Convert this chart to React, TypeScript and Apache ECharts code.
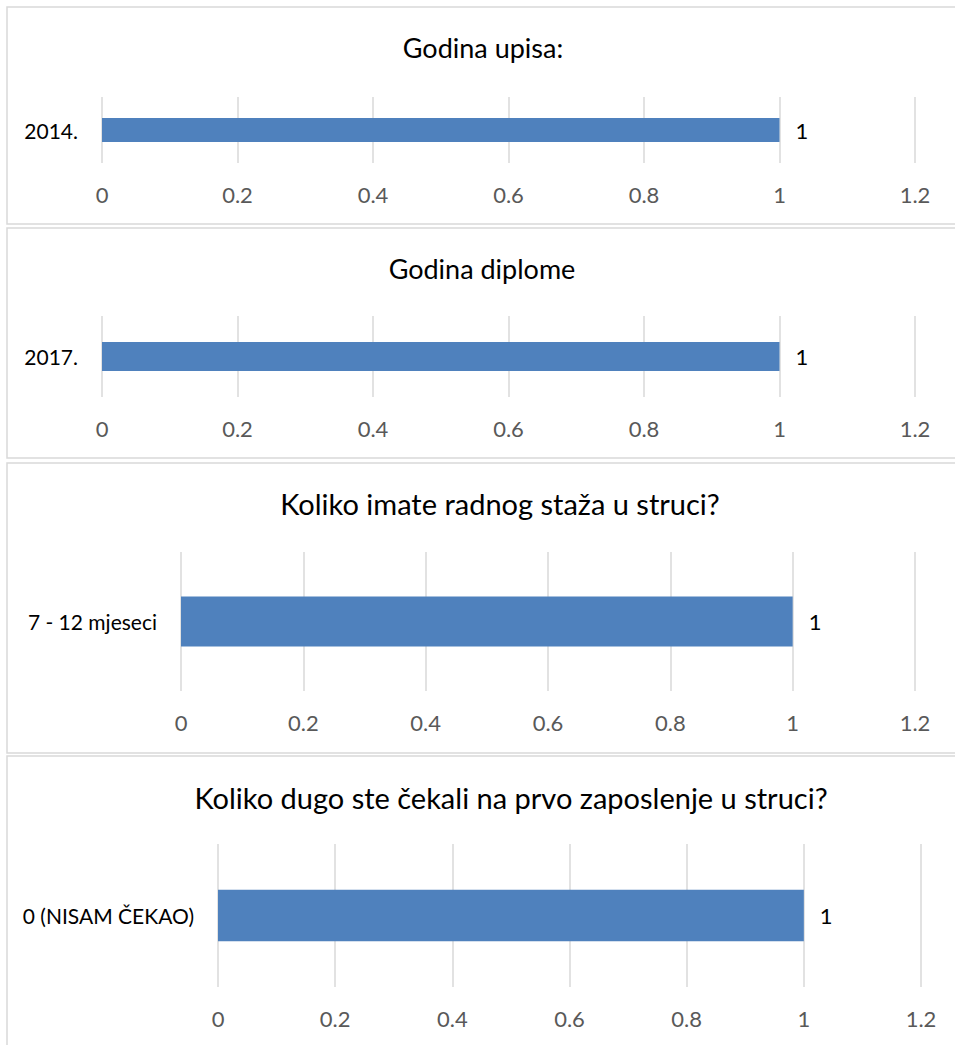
import React, { useEffect, useRef } from "react";
import * as echarts from "echarts";

const titles = [
  "Godina upisa:",
  "Godina diplome",
  "Koliko imate radnog staža u struci?",
  "Koliko dugo ste čekali na prvo zaposlenje u struci?",
];
const categories = [["2014."], ["2017."], ["7 - 12 mjeseci"], ["0 (NISAM ČEKAO)"]];
const values = [[1], [1], [1], [1]];
const axisMin = 0;
const axisMax = 1.2;
const axisInterval = 0.2;

// layout (pixels)
const panels = [
  { top: 7, bottom: 224 },
  { top: 228, bottom: 458 },
  { top: 463, bottom: 753 },
  { top: 756, bottom: 1060 },
];
const grids = [
  { left: 102, right: 915, top: 97, bottom: 163 },
  { left: 102, right: 915, top: 316, bottom: 397 },
  { left: 181, right: 915, top: 552, bottom: 691 },
  { left: 218, right: 921, top: 844, bottom: 987 },
];
const titlePos = [
  { x: 483, y: 47 },
  { x: 482, y: 268 },
  { x: 500, y: 503 },
  { x: 511, y: 797 },
];
const titleSizes = [27, 27, 29, 29];

const FONT = "Lato, 'Open Sans', sans-serif";

export default function App() {
  const ref = useRef<HTMLDivElement>(null);
  useEffect(() => {
    if (!ref.current) return;
    const chart = echarts.init(ref.current, null, { renderer: "svg" });
    const option: any = {
      animation: false,
      backgroundColor: "#ffffff",
      textStyle: { fontFamily: FONT },
      graphic: [
        ...panels.map((p) => ({
          type: "rect",
          shape: { x: 7, y: p.top, width: 1000, height: p.bottom - p.top },
          style: { fill: "none", stroke: "#d9d9d9", lineWidth: 1.5 },
          z: -1,
          silent: true,
        })),
        ...titles.map((t, i) => ({
          type: "text",
          x: titlePos[i].x,
          y: titlePos[i].y,
          style: {
            text: t,
            fill: "#000000",
            fontSize: titleSizes[i],
            fontFamily: FONT,
            align: "center",
            verticalAlign: "middle",
          },
        })),
      ],
      grid: grids.map((g) => ({
        left: g.left,
        top: g.top,
        width: g.right - g.left,
        height: g.bottom - g.top,
        outerBoundsMode: "none",
        containLabel: false,
      })),
      xAxis: grids.map((_, i) => ({
        type: "value",
        gridIndex: i,
        min: axisMin,
        max: axisMax,
        interval: axisInterval,
        axisLine: { show: false },
        axisTick: { show: false },
        splitLine: { show: true, lineStyle: { color: "#d9d9d9", width: 1.5 } },
        axisLabel: {
          color: "#595959",
          fontSize: 22,
          fontFamily: FONT,
          margin: 20,
          formatter: (v: number) => String(+v.toFixed(1)),
        },
      })),
      yAxis: categories.map((c, i) => ({
        type: "category",
        gridIndex: i,
        data: c,
        axisLine: { show: false },
        axisTick: { show: false },
        axisLabel: { color: "#000000", fontSize: 21, fontFamily: FONT, margin: 24 },
      })),
      series: values.map((v, i) => ({
        type: "bar",
        xAxisIndex: i,
        yAxisIndex: i,
        data: v,
        barCategoryGap: "64%",
        itemStyle: { color: "#4f81bd" },
        label: {
          show: true,
          position: "right",
          distance: 16,
          color: "#000000",
          fontSize: 22,
          fontFamily: FONT,
        },
      })),
    };
    chart.setOption(option);
    return () => chart.dispose();
  }, []);
  return (
    <div
      ref={ref}
      style={{ position: "absolute", left: 0, top: 0, width: 955, height: 1045 }}
    />
  );
}
